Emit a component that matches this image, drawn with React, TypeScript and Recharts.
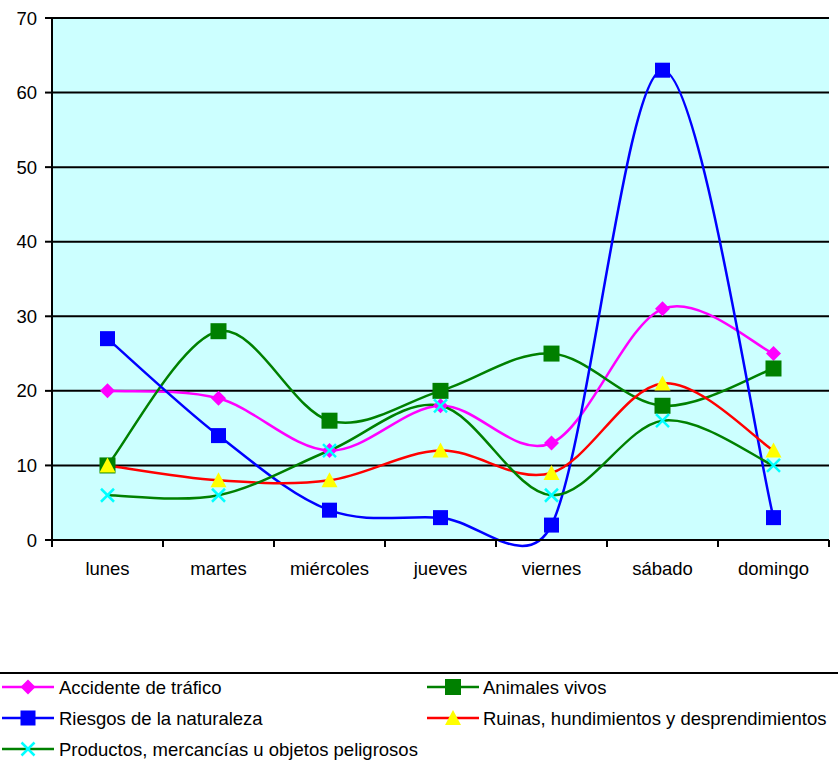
import { LineChart, Line, XAxis, YAxis, CartesianGrid } from 'recharts'

const dias = ['lunes', 'martes', 'miércoles', 'jueves', 'viernes', 'sábado', 'domingo']
const accidente = [20, 19, 12, 18, 13, 31, 25]
const animales = [10, 28, 16, 20, 25, 18, 23]
const riesgos = [27, 14, 4, 3, 2, 63, 3]
const ruinas = [10, 8, 8, 12, 9, 21, 12]
const productos = [6, 6, 12, 18, 6, 16, 10]
const yTicks = [0, 10, 20, 30, 40, 50, 60, 70]

const series = [
  { key: 'accidente', name: 'Accidente de tráfico', values: accidente, color: '#FF00FF', marker: 'diamond', markerColor: '#FF00FF' },
  { key: 'animales', name: 'Animales vivos', values: animales, color: '#008000', marker: 'square', markerColor: '#008000' },
  { key: 'riesgos', name: 'Riesgos de la naturaleza', values: riesgos, color: '#0000FF', marker: 'square', markerColor: '#0000FF' },
  { key: 'ruinas', name: 'Ruinas, hundimientos y desprendimientos', values: ruinas, color: '#FF0000', marker: 'triangle', markerColor: '#FFFF00' },
  { key: 'productos', name: 'Productos, mercancías u objetos peligrosos', values: productos, color: '#008000', marker: 'cross', markerColor: '#00FFFF' },
]

const data = dias.map((dia, i) => {
  const row: Record<string, string | number> = { dia }
  series.forEach((s) => (row[s.key] = s.values[i]))
  return row
})

const W = 838
const PLOT_LEFT = 52
const PLOT_RIGHT = 9
const BAND = (W - PLOT_LEFT - PLOT_RIGHT) / dias.length
const FONT = '"Liberation Sans", Arial, sans-serif'
const FS = 18.5

// smoothed line the way the spreadsheet does it (1/6 catmull-rom, capped at half a segment)
function smoothCurve(context: any) {
  let pts: number[][] = []
  const dist = (a: number[], b: number[]) => Math.hypot(b[0] - a[0], b[1] - a[1])
  return {
    areaStart() {},
    areaEnd() {},
    lineStart() {
      pts = []
    },
    point(x: number, y: number) {
      pts.push([+x, +y])
    },
    lineEnd() {
      const n = pts.length
      if (!n) return
      context.moveTo(pts[0][0], pts[0][1])
      for (let i = 0; i < n - 1; i++) {
        const p0 = pts[Math.max(i - 1, 0)]
        const p1 = pts[i]
        const p2 = pts[i + 1]
        const p3 = pts[Math.min(i + 2, n - 1)]
        const d12 = dist(p1, p2)
        const d02 = dist(p0, p2)
        const d13 = dist(p1, p3)
        let f1 = 1 / 6
        let f2 = 1 / 6
        if (d02 / 6 >= d12 / 2) f1 = d02 > 0 ? d12 / 2 / d02 : 0
        if (d13 / 6 >= d12 / 2) f2 = d13 > 0 ? d12 / 2 / d13 : 0
        context.bezierCurveTo(
          p1[0] + f1 * (p2[0] - p0[0]),
          p1[1] + f1 * (p2[1] - p0[1]),
          p2[0] - f2 * (p3[0] - p1[0]),
          p2[1] - f2 * (p3[1] - p1[1]),
          p2[0],
          p2[1]
        )
      }
    },
  }
}

function Marker({ kind, cx, cy, color }: { kind: string; cx: number; cy: number; color: string }) {
  if (kind === 'diamond') {
    const r = 7.5
    return <polygon points={`${cx},${cy - r} ${cx + r},${cy} ${cx},${cy + r} ${cx - r},${cy}`} fill={color} />
  }
  if (kind === 'square') {
    const s = color === '#008000' ? 16 : 15
    return <rect x={cx - s / 2} y={cy - s / 2} width={s} height={s} fill={color} />
  }
  if (kind === 'triangle') {
    return <polygon points={`${cx},${cy - 8} ${cx + 8},${cy + 7} ${cx - 8},${cy + 7}`} fill={color} />
  }
  const r = 6.5
  return (
    <g stroke={color} strokeWidth={2.5}>
      <line x1={cx - r} y1={cy - r} x2={cx + r} y2={cy + r} />
      <line x1={cx - r} y1={cy + r} x2={cx + r} y2={cy - r} />
    </g>
  )
}

function DayTick(props: any) {
  const { x, y, payload, index } = props
  const last = index === dias.length - 1
  return (
    <g>
      <line x1={x - BAND / 2} x2={x - BAND / 2} y1={y} y2={y + 7} stroke="#000" strokeWidth={2} />
      {last && <line x1={x + BAND / 2} x2={x + BAND / 2} y1={y} y2={y + 7} stroke="#000" strokeWidth={2} />}
      <text x={x} y={y + 28} dy="0.355em" textAnchor="middle" fontSize={FS} fill="#000" fontFamily={FONT}>
        {payload.value}
      </text>
    </g>
  )
}

function ChartLegend() {
  const cols = [
    { line: [2, 54], text: 59 },
    { line: [427, 479], text: 483 },
  ]
  return (
    <svg width={W} height={92} style={{ display: 'block' }}>
      <line x1={0} x2={W} y1={1} y2={1} stroke="#000" strokeWidth={2} />
      {series.map((s, i) => {
        const c = cols[i % 2]
        const y = 15 + Math.floor(i / 2) * 31
        const mid = (c.line[0] + c.line[1]) / 2
        return (
          <g key={s.key}>
            <line x1={c.line[0]} x2={c.line[1]} y1={y} y2={y} stroke={s.color} strokeWidth={2.5} />
            <Marker kind={s.marker} cx={mid} cy={y} color={s.markerColor} />
            <text x={c.text} y={y} dy="0.355em" fontSize={FS} fill="#000" fontFamily={FONT}>
              {s.name}
            </text>
          </g>
        )
      })}
    </svg>
  )
}

export default function App() {
  return (
    <div style={{ position: 'absolute', left: 0, top: 0, width: W, height: 764, background: '#fff', fontFamily: FONT }}>
      <LineChart width={W} height={672} data={data} margin={{ top: 18, right: PLOT_RIGHT, left: 0, bottom: 92 }}>
        <CartesianGrid vertical={false} stroke="#000" strokeWidth={2} fill="#CCFFFF" fillOpacity={1} />
        <XAxis
          dataKey="dia"
          scale="point"
          padding={{ left: BAND / 2, right: BAND / 2 }}
          height={40}
          tickSize={0}
          tickMargin={0}
          tickLine={false}
          interval={0}
          axisLine={{ stroke: '#000', strokeWidth: 2 }}
          tick={<DayTick />}
        />
        <XAxis
          xAxisId="top"
          orientation="top"
          dataKey="dia"
          scale="point"
          height={0}
          tick={false}
          tickLine={false}
          axisLine={{ stroke: '#808080', strokeWidth: 2 }}
        />
        <YAxis
          width={PLOT_LEFT}
          domain={[0, 70]}
          ticks={yTicks}
          interval={0}
          tickSize={7}
          tickMargin={8}
          tick={{ fontSize: FS, fill: '#000', fontFamily: FONT }}
          tickLine={{ stroke: '#000', strokeWidth: 2 }}
          axisLine={{ stroke: '#000', strokeWidth: 2 }}
        />
        <YAxis
          yAxisId="right"
          orientation="right"
          width={0}
          domain={[0, 70]}
          tick={false}
          tickLine={false}
          axisLine={{ stroke: '#808080', strokeWidth: 2 }}
        />
        {series.map((s) => (
          <Line
            key={s.key}
            dataKey={s.key}
            name={s.name}
            type={smoothCurve as any}
            stroke={s.color}
            strokeWidth={2.5}
            isAnimationActive={false}
            activeDot={false}
            dot={(p: any) => (
              <g key={`${s.key}-${p.index}`}>
                <Marker kind={s.marker} cx={p.cx} cy={p.cy} color={s.markerColor} />
              </g>
            )}
          />
        ))}
      </LineChart>
      <ChartLegend />
    </div>
  )
}
